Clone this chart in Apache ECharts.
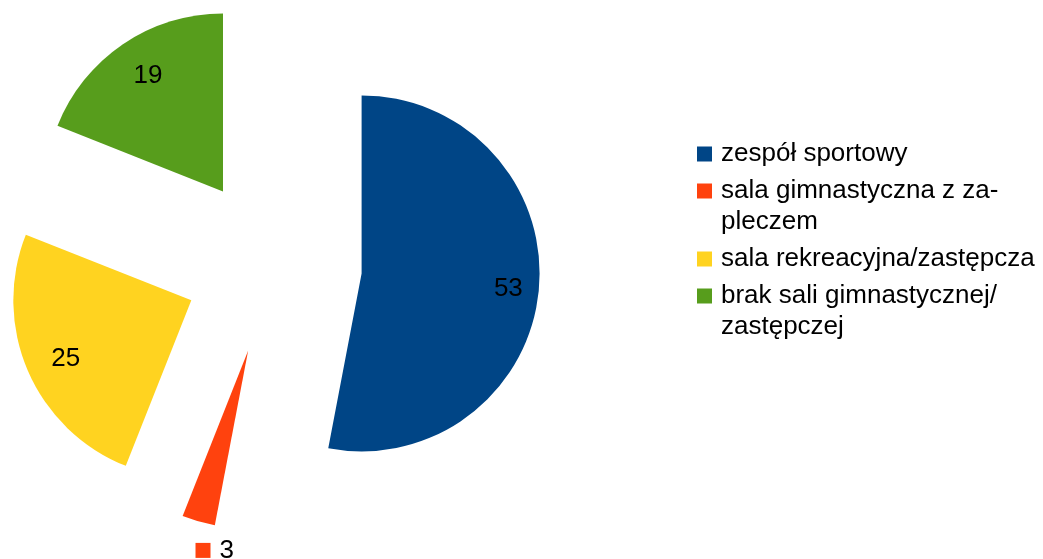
<!DOCTYPE html>
<html>
<head>
<meta charset="utf-8">
<script src="https://cdn.jsdelivr.net/npm/echarts@6/dist/echarts.min.js"></script>
<style>
  html, body { margin: 0; padding: 0; background: #fff; }
  #chart { width: 1043px; height: 559px; }
</style>
</head>
<body>
<div id="chart"></div>
<script>
const categories = ['zespół sportowy', 'sala gimnastyczna z za-\npleczem', 'sala rekreacyjna/zastępcza', 'brak sali gimnastycznej/\nzastępczej'];
const values = [53, 3, 25, 19];
const colors = ['#004586', '#ff420e', '#ffd320', '#579d1c'];

const FONT = '"Liberation Sans", Arial, sans-serif';
const CX = 273, CY = 265, R = 178, OFFSET = 89;
const total = values.reduce((a, b) => a + b, 0);

// mid angle of each slice, clockwise from 12 o'clock
const midAngles = [];
let acc = 0;
values.forEach(v => { midAngles.push((acc + v / 2) / total * 2 * Math.PI); acc += v; });

// square key + spacing tokens for legend and small label
const rich = { g: { width: 9 }, ind: { width: 24 } };
colors.forEach((c, i) => { rich['k' + i] = { width: 15, height: 15, backgroundColor: c }; });

const isSmall = i => values[i] / total < 0.05;

const chart = echarts.init(document.getElementById('chart'));

chart.setOption({
    animation: false,
    backgroundColor: '#fff',
    color: colors,
    legend: {
        orient: 'vertical', left: 692, top: 138.5, padding: 0, itemGap: 6,
        itemWidth: 0, itemHeight: 0, selectedMode: false,
        data: categories,
        textStyle: { fontFamily: FONT, fontSize: 26, color: '#000', lineHeight: 31, rich: rich },
        formatter: name => {
            const i = categories.indexOf(name);
            return name.split('\n').map((l, j) => (j === 0 ? `{k${i}|}{g|}` : '{ind|}') + l).join('\n');
        }
    },
    series: [{
        type: 'pie',
        center: [CX, CY],
        radius: R,
        startAngle: 90,
        clockwise: true,
        selectedMode: 'multiple',
        selectedOffset: OFFSET,
        avoidLabelOverlap: false,
        itemStyle: { borderWidth: 0 },
        emphasis: { disabled: true },
        select: { itemStyle: { borderWidth: 0 } },
        labelLine: { show: false },
        label: {
            show: true, position: 'inside',
            fontFamily: FONT, fontSize: 26, color: '#000', lineHeight: 31, rich: rich,
            formatter: p => isSmall(p.dataIndex) ? `{k${p.dataIndex}|}{g|}${p.value}` : `${p.value}`
        },
        // move labels from the default inside spot (r/2 + 3) to where the reference puts them
        labelLayout: params => {
            const i = params.dataIndex;
            const sx = Math.sin(midAngles[i]), sy = -Math.cos(midAngles[i]);
            const ax = CX + OFFSET * sx, ay = CY + OFFSET * sy;
            const defX = ax + (R / 2 + 3) * sx, defY = ay + (R / 2 + 3) * sy;
            let tx, ty;
            if (isSmall(i)) {
                // small slice: label with key sits just under the outer edge
                tx = ax + R * sx - 3 + params.labelRect.width / 2;
                ty = ay + R * sy + 29;
            } else {
                tx = ax + 0.8 * R * sx + 5;
                ty = ay + 0.8 * R * sy + 2;
            }
            return { dx: tx - defX, dy: ty - defY };
        },
        data: categories.map((name, i) => ({ name: name, value: values[i], selected: true }))
    }]
});
</script>
</body>
</html>
